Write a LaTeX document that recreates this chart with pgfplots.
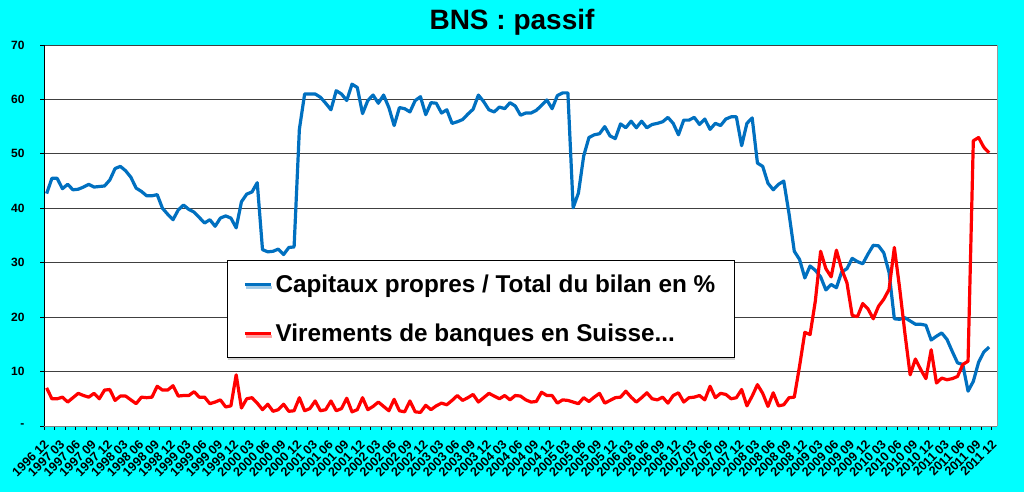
\documentclass[border=0pt]{standalone}
\usepackage{pgfplots}
\pgfplotsset{compat=1.18}
\usepackage{pgfplotstable}
\usepackage{fontspec}
\setmainfont{Liberation Sans}
\usetikzlibrary{shadows}

\definecolor{bgcyan}{RGB}{0,255,255}
\definecolor{capblue}{RGB}{0,112,192}
\definecolor{virred}{RGB}{255,0,0}

% i = months since 1996 12; cap = capitaux propres / total du bilan (%), vir = virements de banques
\pgfplotstableread{
i cap vir
0 42.7 7.0
1 45.5 5.0
2 45.5 5.0
3 43.6 5.3
4 44.4 4.4
5 43.4 5.2
6 43.5 6.0
7 43.9 5.6
8 44.4 5.3
9 43.9 6.0
10 44.0 5.0
11 44.1 6.6
12 45.2 6.7
13 47.3 4.7
14 47.7 5.5
15 46.9 5.5
16 45.7 4.8
17 43.7 4.1
18 43.1 5.3
19 42.3 5.2
20 42.3 5.3
21 42.5 7.3
22 40.0 6.6
23 38.9 6.6
24 37.9 7.4
25 39.7 5.5
26 40.6 5.6
27 39.8 5.6
28 39.3 6.3
29 38.3 5.3
30 37.3 5.3
31 37.9 4.1
32 36.7 4.4
33 38.2 4.8
34 38.6 3.5
35 38.2 3.7
36 36.4 9.4
37 41.2 3.3
38 42.6 5.0
39 43.0 5.2
40 44.7 4.2
41 32.4 3.0
42 32.0 4.0
43 32.1 2.7
44 32.5 3.0
45 31.5 4.0
46 32.8 2.7
47 32.9 2.8
48 54.5 5.2
49 61.0 2.8
50 61.0 3.2
51 61.0 4.6
52 60.4 2.8
53 59.3 3.0
54 58.1 4.6
55 61.6 2.8
56 61.0 3.2
57 59.8 5.1
58 62.8 2.6
59 62.2 3.0
60 57.4 5.2
61 59.8 3.0
62 60.8 3.6
63 59.3 4.4
64 60.8 3.6
65 58.5 2.8
66 55.2 4.9
67 58.5 2.8
68 58.3 2.6
69 57.7 4.6
70 59.8 2.6
71 60.5 2.5
72 57.2 3.8
73 59.4 3.0
74 59.3 3.7
75 57.5 4.2
76 58.1 3.9
77 55.6 4.7
78 55.9 5.6
79 56.3 4.7
80 57.3 5.2
81 58.2 5.8
82 60.8 4.4
83 59.6 5.2
84 58.1 6.0
85 57.7 5.5
86 58.6 5.0
87 58.3 5.6
88 59.4 4.8
89 58.8 5.6
90 57.1 5.5
91 57.5 4.8
92 57.5 4.4
93 58.0 4.5
94 58.9 6.2
95 59.9 5.6
96 58.3 5.6
97 60.7 4.2
98 61.2 4.8
99 61.2 4.7
100 40.1 4.4
101 42.8 4.1
102 49.6 5.2
103 53.0 4.5
104 53.5 5.3
105 53.7 6.0
106 55.0 4.2
107 53.3 4.7
108 52.8 5.2
109 55.5 5.3
110 54.8 6.4
111 56.0 5.3
112 54.8 4.4
113 56.0 5.2
114 54.8 6.1
115 55.4 5.0
116 55.6 4.8
117 55.9 5.3
118 56.7 4.2
119 55.6 5.6
120 53.5 6.1
121 56.2 4.4
122 56.2 5.2
123 56.7 5.3
124 55.4 5.6
125 56.4 4.8
126 54.5 7.3
127 55.6 5.2
128 55.2 6.0
129 56.4 5.8
130 56.8 5.0
131 56.8 5.2
132 51.5 6.7
133 55.6 3.7
134 56.6 5.5
135 48.3 7.6
136 47.7 6.0
137 44.6 3.6
138 43.4 6.1
139 44.4 3.7
140 45.0 3.9
141 39.0 5.2
142 32.1 5.3
143 30.6 11.0
144 27.2 17.2
145 29.4 16.8
146 28.6 23.0
147 27.4 32.1
148 25.0 28.9
149 26.0 27.4
150 25.4 32.3
151 28.3 28.8
152 28.9 26.3
153 30.8 20.3
154 30.2 20.1
155 29.8 22.5
156 31.6 21.5
157 33.2 19.7
158 33.1 22.0
159 31.8 23.3
160 28.2 25.1
161 19.7 32.8
162 19.6 25.4
163 19.9 17.1
164 19.3 9.4
165 18.7 12.3
166 18.7 10.4
167 18.5 8.7
168 15.8 14.0
169 16.5 7.9
170 17.1 8.8
171 15.9 8.5
172 13.7 8.7
173 11.6 9.1
174 11.3 11.3
175 6.4 11.9
176 8.2 52.4
177 11.7 53.0
178 13.6 51.2
179 14.5 50.2
}\bnsdata

\begin{document}
\begin{tikzpicture}
\fill[bgcyan] (0,0) rectangle (1024pt,492pt);
\useasboundingbox (0,0) rectangle (1024pt,492pt);
\node[font=\bfseries\fontsize{28}{32}\selectfont] at (512pt,470pt) {BNS : passif};
\begin{axis}[
    at={(44pt,66pt)}, anchor=south west,
    scale only axis,
    width=953pt, height=381pt,
    xmin=-0.5, xmax=180.5,
    ymin=0, ymax=70,
    axis background/.style={fill=white},
    axis x line*=bottom,
    axis y line*=left,
    x axis line style={gray, line width=0.8pt},
    y axis line style={black, line width=0.8pt},
    tick align=outside,
    major tick length=4pt,
    minor tick length=4pt,
    xtick={0,3,...,180},
    xticklabels={1996 12,
      1997 03,1997 06,1997 09,1997 12,1998 03,1998 06,1998 09,1998 12,
      1999 03,1999 06,1999 09,1999 12,2000 03,2000 06,2000 09,2000 12,
      2001 03,2001 06,2001 09,2001 12,2002 03,2002 06,2002 09,2002 12,
      2003 03,2003 06,2003 09,2003 12,2004 03,2004 06,2004 09,2004 12,
      2005 03,2005 06,2005 09,2005 12,2006 03,2006 06,2006 09,2006 12,
      2007 03,2007 06,2007 09,2007 12,2008 03,2008 06,2008 09,2008 12,
      2009 03,2009 06,2009 09,2009 12,2010 03,2010 06,2010 09,2010 12,
      2011 03,2011 06,2011 09,2011 12},
    major x tick style={draw=none},
    minor xtick={-0.5,1.5,...,179.5},
    minor x tick style={black, line width=0.8pt},
    xticklabel shift=12pt,
    xticklabel style={rotate=45, anchor=east, inner sep=0pt,
      font=\bfseries\fontsize{12.6}{13}\selectfont},
    ytick={0,10,...,70},
    yticklabels={-,10,20,30,40,50,60,70},
    ytick style={black, line width=0.8pt},
    yticklabel style={font=\bfseries\fontsize{12}{14}\selectfont, xshift=-12pt},
    ymajorgrids,
    major grid style={black!75, line width=0.9pt},
    extra x ticks={180.5},
    extra x tick labels={},
    extra x tick style={grid=major, major grid style={gray!80, line width=0.8pt}},
    legend style={
      at={(0.192,0.436)}, anchor=north west,
      draw=black, fill=white, line width=0.8pt,
      drop shadow={shadow xshift=1pt, shadow yshift=-3pt, opacity=0.35},
      font=\bfseries\fontsize{24.3}{28}\selectfont,
      inner xsep=16pt, inner ysep=11.5pt,
      row sep=24pt, column sep=0pt,
      nodes={inner sep=3pt},
    },
    legend cell align=left,
    legend image code/.code={\draw[#1] (0pt,0pt) -- (26pt,0pt);},
]
\addplot[capblue, line width=3.2pt, line join=round, no markers] table[x=i, y=cap] {\bnsdata};
\addplot[virred, line width=3.2pt, line join=round, no markers] table[x=i, y=vir] {\bnsdata};
\legend{Capitaux propres / Total du bilan en \%, Virements de banques en Suisse.{}.{}.}
\end{axis}
\end{tikzpicture}
\end{document}
